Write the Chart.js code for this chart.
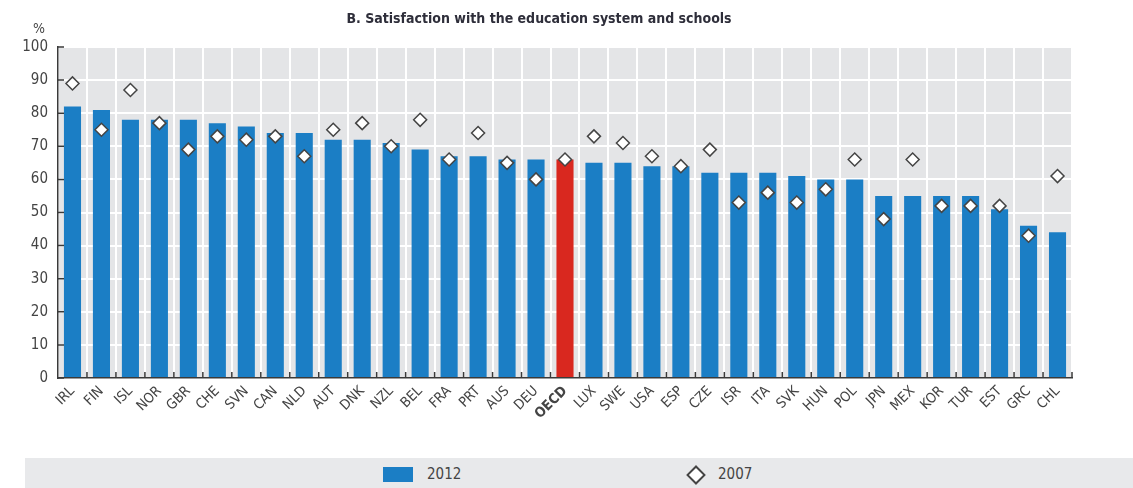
<!DOCTYPE html>
<html>
<head>
<meta charset="utf-8">
<script src="https://cdn.jsdelivr.net/npm/chart.js@4"></script>
<style>
  html, body { margin: 0; padding: 0; background: #fff; }
  #wrap { position: relative; width: 1133px; height: 488px; }
  #c { position: absolute; left: 0; top: 0; }
  #band { position: absolute; left: 25px; top: 458px; width: 1108px; height: 30px; background: #e8e9eb; }
  .lg { position: absolute; font-family: "Liberation Sans Narrow", "Arial Narrow", "DejaVu Sans Condensed", sans-serif; font-size: 15px; color: #444; }
</style>
</head>
<body>
<div id="wrap">
  <canvas id="c" width="1133" height="458"></canvas>
  <div id="band"></div>
  <div style="position:absolute;left:383px;top:467px;width:30px;height:15px;background:#1b7ec5;"></div>
  <div class="lg" style="left:427px;top:465px;">2012</div>
  <div style="position:absolute;left:689px;top:468px;width:10px;height:10px;background:#fff;border:2px solid #444;transform:rotate(45deg);"></div>
  <div class="lg" style="left:718px;top:465px;">2007</div>
</div>
<script>
const categories = ["IRL","FIN","ISL","NOR","GBR","CHE","SVN","CAN","NLD","AUT","DNK","NZL","BEL","FRA","PRT","AUS","DEU","OECD","LUX","SWE","USA","ESP","CZE","ISR","ITA","SVK","HUN","POL","JPN","MEX","KOR","TUR","EST","GRC","CHL"];
const values2012 = [82,81,78,78,78,77,76,74,74,72,72,71,69,67,67,66,66,66,65,65,64,64,62,62,62,61,60,60,55,55,55,55,51,46,44];
const values2007 = [89,75,87,77,69,73,72,73,67,75,77,70,78,66,74,65,60,66,73,71,67,64,69,53,56,53,57,66,48,66,52,52,52,43,61];
const yTicks = [0,10,20,30,40,50,60,70,80,90,100];
const titleText = "B. Satisfaction with the education system and schools";
const highlight = "OECD";

const FONT = '"Liberation Sans Narrow", "Arial Narrow", "DejaVu Sans Condensed", sans-serif';
const BLUE = '#1b7ec5', RED = '#d9281f', AXIS = '#3a3a3a', TXT = '#444';

const bgPlugin = {
  id: 'bg',
  beforeDraw(chart) {
    const {ctx, chartArea: a} = chart;
    ctx.save();
    ctx.fillStyle = '#e4e5e7';
    ctx.fillRect(a.left, a.top, a.right - a.left, a.bottom - a.top);
    ctx.restore();
  },
  afterDraw(chart) {
    const {ctx, chartArea: a, scales} = chart;
    ctx.save();
    ctx.fillStyle = '#2e2e3a';
    ctx.font = 'bold 14px ' + FONT;
    ctx.textAlign = 'center';
    ctx.textBaseline = 'middle';
    ctx.fillText(titleText, 539, 19);
    ctx.fillStyle = TXT;
    ctx.font = '14px ' + FONT;
    ctx.fillText('%', 39, 29);
    ctx.strokeStyle = AXIS;
    ctx.lineWidth = 1.5;
    ctx.beginPath();
    scales.y.ticks.forEach((t, i) => {
      const y = scales.y.getPixelForTick(i);
      ctx.moveTo(a.left, y); ctx.lineTo(a.left + 6, y);
    });
    const x = scales.x;
    const step = x.getPixelForValue(1) - x.getPixelForValue(0);
    for (let i = 1; i <= categories.length; i++) {
      const px = x.getPixelForValue(i) - step / 2;
      ctx.moveTo(px, a.bottom); ctx.lineTo(px, a.bottom - 6);
    }
    ctx.stroke();
    ctx.restore();
  }
};

new Chart(document.getElementById('c'), {
  type: 'bar',
  data: {
    labels: categories,
    datasets: [
      {
        type: 'line',
        label: '2007',
        data: values2007,
        showLine: false,
        pointStyle: 'rectRot',
        pointRadius: 6.5,
        pointBackgroundColor: '#ffffff',
        pointBorderColor: '#444',
        pointBorderWidth: 1.5,
        order: 0
      },
      {
        label: '2012',
        data: values2012,
        backgroundColor: categories.map(c => c === highlight ? RED : BLUE),
        barPercentage: 0.59,
        categoryPercentage: 1.0,
        order: 1
      }
    ]
  },
  options: {
    responsive: false,
    animation: false,
    layout: { padding: { left: 0, right: 61, top: 47, bottom: 0 } },
    plugins: { legend: { display: false }, tooltip: { enabled: false }, title: { display: false } },
    scales: {
      x: {
        grid: { color: '#ffffff', lineWidth: 2, offset: true, drawTicks: false },
        border: { display: true, color: AXIS, width: 1.5 },
        ticks: {
          color: TXT,
          minRotation: 45, maxRotation: 45,
          padding: 5,
          autoSkip: false,
          font: (ctx) => ({ family: FONT, size: 14, weight: (ctx.tick && ctx.tick.label === highlight) ? 'bold' : 'normal' })
        },
        afterFit(s) { s.height = 80; }
      },
      y: {
        min: 0, max: 100,
        afterBuildTicks(s) { s.ticks = yTicks.map(v => ({ value: v })); },
        grid: { color: '#ffffff', lineWidth: 2, drawTicks: false },
        border: { display: true, color: AXIS, width: 1.5 },
        ticks: { color: TXT, padding: 10, font: { family: FONT, size: 15 } },
        afterFit(s) { s.width = 58; }
      }
    }
  },
  plugins: [bgPlugin]
});
</script>
</body>
</html>
